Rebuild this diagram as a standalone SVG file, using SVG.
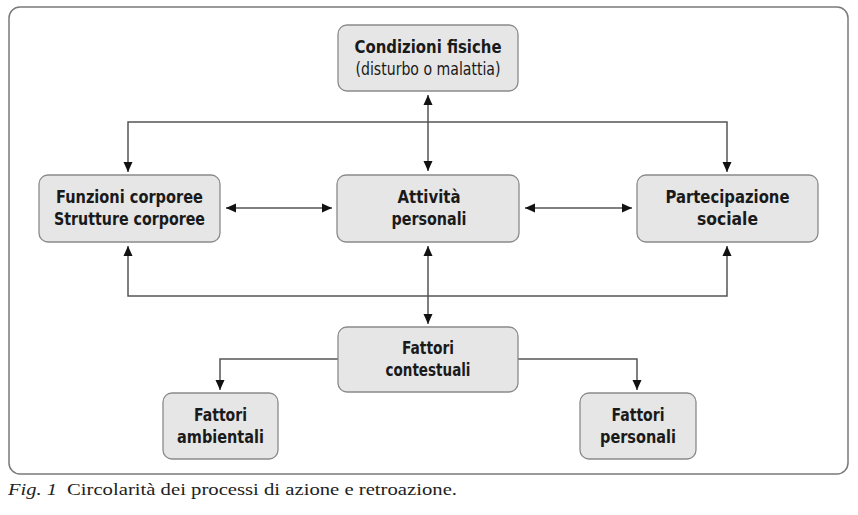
<svg xmlns="http://www.w3.org/2000/svg" width="858" height="515" viewBox="0 0 858 515">
<defs>
<marker id="ah" viewBox="0 0 10 10" refX="10" refY="5" markerWidth="11" markerHeight="10" markerUnits="userSpaceOnUse" orient="auto-start-reverse">
<path d="M0,0.5 L10,5 L0,9.5 z" fill="#111"/>
</marker>
</defs>
<style>
.box{fill:#e6e6e6;stroke:#8a8a8a;stroke-width:1.3}
.t{font-family:"DejaVu Sans Condensed","Liberation Sans Narrow","Liberation Sans",sans-serif;font-weight:bold;font-size:18px;fill:#1a1a1a;text-anchor:middle}
.tn{font-family:"DejaVu Sans Condensed","Liberation Sans Narrow","Liberation Sans",sans-serif;font-size:17px;fill:#1a1a1a;text-anchor:middle}
.c{fill:none;stroke:#555;stroke-width:1.5}
.cap{font-family:"Liberation Serif",serif;font-size:17px;fill:#222}
</style>
<rect x="9" y="7" width="839" height="467" rx="11" fill="#fff" stroke="#7a7a7a" stroke-width="1.5"/>
<g id="connectors">
<line class="c" x1="428" y1="95" x2="428" y2="171" marker-start="url(#ah)" marker-end="url(#ah)"/>
<polyline class="c" points="128,172 128,122 727,122 727,172" marker-start="url(#ah)" marker-end="url(#ah)"/>
<polyline class="c" points="128,246 128,296 727,296 727,246" marker-start="url(#ah)" marker-end="url(#ah)"/>
<line class="c" x1="428" y1="246" x2="428" y2="324" marker-start="url(#ah)" marker-end="url(#ah)"/>
<line class="c" x1="226" y1="208" x2="332" y2="208" marker-start="url(#ah)" marker-end="url(#ah)"/>
<line class="c" x1="525" y1="208" x2="632" y2="208" marker-start="url(#ah)" marker-end="url(#ah)"/>
<polyline class="c" points="338,359 220,359 220,390" marker-end="url(#ah)"/>
<polyline class="c" points="518,359 637,359 637,390" marker-end="url(#ah)"/>
</g>
<g id="condizioni">
<rect class="box" x="338" y="25" width="180" height="66" rx="9"/>
<text class="t" x="428" y="53" textLength="147" lengthAdjust="spacingAndGlyphs">Condizioni fisiche</text>
<text class="tn" x="428" y="75" textLength="145" lengthAdjust="spacingAndGlyphs">(disturbo o malattia)</text>
</g>
<g id="funzioni">
<rect class="box" x="39" y="175" width="181" height="67" rx="9"/>
<text class="t" x="129.5" y="203" textLength="147" lengthAdjust="spacingAndGlyphs">Funzioni corporee</text>
<text class="t" x="129.5" y="225" textLength="151" lengthAdjust="spacingAndGlyphs">Strutture corporee</text>
</g>
<g id="attivita">
<rect class="box" x="337" y="175" width="182" height="67" rx="9"/>
<text class="t" x="429" y="203" textLength="63" lengthAdjust="spacingAndGlyphs">Attività</text>
<text class="t" x="429" y="225" textLength="75" lengthAdjust="spacingAndGlyphs">personali</text>
</g>
<g id="partecipazione">
<rect class="box" x="637" y="175" width="181" height="67" rx="9"/>
<text class="t" x="727.5" y="203" textLength="124" lengthAdjust="spacingAndGlyphs">Partecipazione</text>
<text class="t" x="727.5" y="225" textLength="61" lengthAdjust="spacingAndGlyphs">sociale</text>
</g>
<g id="contestuali">
<rect class="box" x="338" y="327" width="180" height="65" rx="9"/>
<text class="t" x="428" y="354" textLength="52" lengthAdjust="spacingAndGlyphs">Fattori</text>
<text class="t" x="428" y="376" textLength="85" lengthAdjust="spacingAndGlyphs">contestuali</text>
</g>
<g id="ambientali">
<rect class="box" x="163" y="393" width="115" height="66" rx="9"/>
<text class="t" x="220.5" y="421" textLength="53" lengthAdjust="spacingAndGlyphs">Fattori</text>
<text class="t" x="220.5" y="443" textLength="87" lengthAdjust="spacingAndGlyphs">ambientali</text>
</g>
<g id="personali">
<rect class="box" x="580" y="393" width="116" height="66" rx="9"/>
<text class="t" x="638" y="421" textLength="53" lengthAdjust="spacingAndGlyphs">Fattori</text>
<text class="t" x="638" y="443" textLength="76" lengthAdjust="spacingAndGlyphs">personali</text>
</g>
<text class="cap" x="8" y="495" font-style="italic" textLength="49" lengthAdjust="spacingAndGlyphs">Fig. 1</text>
<text class="cap" x="67" y="495" textLength="390" lengthAdjust="spacingAndGlyphs">Circolarità dei processi di azione e retroazione.</text>
</svg>
